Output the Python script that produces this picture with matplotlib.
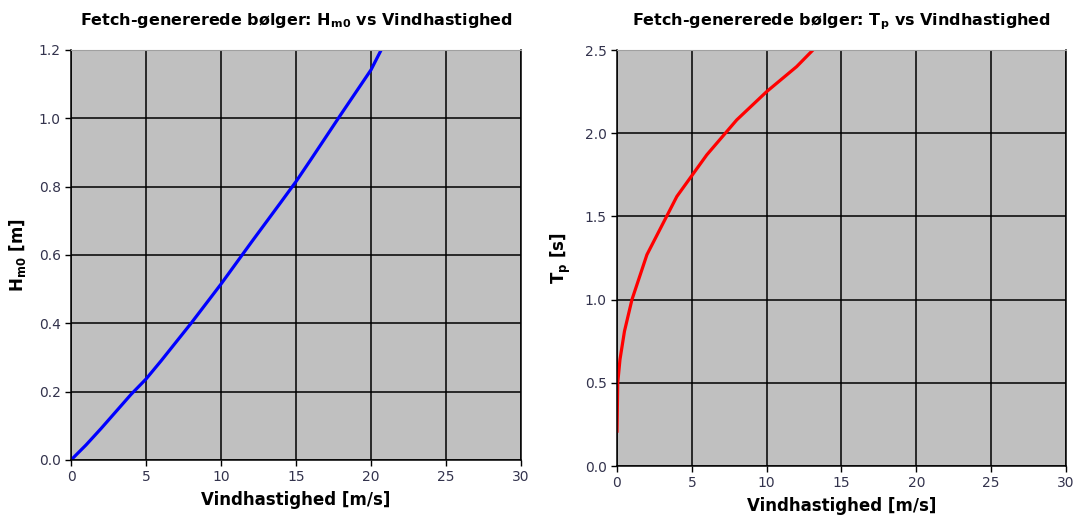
import matplotlib.pyplot as plt

# Left chart: significant wave height vs wind speed
wind_h = [0, 1, 2, 3, 4, 5, 6, 7, 8, 10, 12, 14, 15, 16, 18, 20, 21]
hm0 = [0, 0.044, 0.092, 0.142, 0.192, 0.237, 0.29, 0.345, 0.40, 0.515, 0.636, 0.755, 0.815, 0.88, 1.012, 1.142, 1.228]

# Right chart: peak period vs wind speed
wind_t = [0, 0.05, 0.2, 0.5, 1, 2, 4, 6, 8, 10, 12, 13.2]
tp = [0.2, 0.5, 0.64, 0.81, 1.0, 1.27, 1.62, 1.87, 2.08, 2.25, 2.40, 2.51]

x_ticks = [0, 5, 10, 15, 20, 25, 30]
h_ticks = [0.0, 0.2, 0.4, 0.6, 0.8, 1.0, 1.2]
t_ticks = [0.0, 0.5, 1.0, 1.5, 2.0, 2.5]

fig = plt.figure(figsize=(10.83, 5.19), dpi=100)
ax1 = fig.add_axes([0.0656, 0.1137, 0.4155, 0.790])
ax2 = fig.add_axes([0.5697, 0.1021, 0.4146, 0.8015])

tick_color = '#33334d'


def style(ax, yticks, ylabel, title, title_pad):
    ax.set_facecolor('#c0c0c0')
    ax.set_axisbelow(True)
    ax.grid(True, color='black', linewidth=1.1)
    ax.set_xlim(0, 30)
    ax.set_ylim(yticks[0], yticks[-1])
    ax.set_xticks(x_ticks)
    ax.set_yticks(yticks)
    ax.set_yticklabels([f'{v:.1f}' for v in yticks])
    ax.tick_params(direction='out', length=4, width=1, colors='black',
                   labelcolor=tick_color, labelsize=10)
    for side in ['left', 'bottom', 'right']:
        ax.spines[side].set_color('black')
        ax.spines[side].set_linewidth(1.1)
    ax.spines['top'].set_color('#a0a0a0')
    ax.set_xlabel('Vindhastighed [m/s]', fontsize=12, fontweight='bold', labelpad=5)
    ax.set_ylabel(ylabel, fontsize=12, fontweight='bold', labelpad=8)
    ax.set_title(title, fontsize=11.5, fontweight='bold', pad=title_pad)


ax1.plot(wind_h, hm0, color='blue', linewidth=2.3, solid_capstyle='butt')
style(ax1, h_ticks, r'H$_{\mathbf{m0}}$ [m]',
      r'Fetch-genererede bølger: H$_{\mathbf{m0}}$ vs Vindhastighed', 18)

ax2.plot(wind_t, tp, color='red', linewidth=2.3, solid_capstyle='butt')
style(ax2, t_ticks, r'T$_{\mathbf{p}}$ [s]',
      r'Fetch-genererede bølger: T$_{\mathbf{p}}$ vs Vindhastighed', 18)

fig.savefig('out.png', dpi=100)
